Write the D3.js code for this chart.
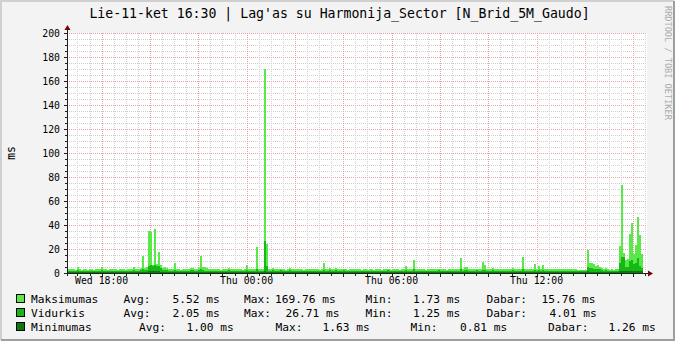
<!DOCTYPE html>
<html>
<head>
<meta charset="utf-8">
<script src="https://cdn.jsdelivr.net/npm/d3@7"></script>
<style>
  body { margin: 0; background: #f3f3f3; }
  svg text { font-family: "DejaVu Sans Mono", monospace; fill: #000; white-space: pre; }
</style>
</head>
<body>
<div id="chart"></div>
<script>
// series values, one per 5 minutes, starting Wed 16:34
var maksimumas = [].concat(
  [3.2,3.0,3.6,3.1,2.9,4.6,3.3,2.8,3.0,3.4,2.7,3.1,3.5,2.9,3.2,3.0,3.3,5.0,3.6,3.1,2.8,3.2,3.4,3.0],
  [3.1,2.9,3.3,3.0,3.4,2.8,3.2,3.5,3.0,4.6,3.2,3.3,3.8,14.4,4.2,5.0,35.0,34.5,7.0,36.7,7.5,17.5,6.5,4.2],
  [5.0,3.8,3.3,3.0,3.4,8.3,3.5,3.1,2.9,3.3,3.6,3.0,3.2,4.4,4.0,3.1,3.3,3.8,14.2,5.2,4.6,4.4,3.0,3.4],
  [3.3,3.0,3.4,3.1,2.9,3.6,3.2,3.0,4.0,3.3,3.5,3.1,3.0,3.4,3.2,2.9,3.3,6.7,3.1,3.0,3.4,3.2,21.7,3.6],
  [3.2,3.0,169.76,24.4,3.3,3.1,4.5,3.2,3.0,3.4,3.6,3.1,2.9,3.3,4.2,3.0,3.2,3.5,3.1,3.0,3.3,2.9,3.4,3.2],
  [3.1,3.3,3.0,3.4,3.2,2.9,3.5,8.6,3.3,3.0,4.2,3.1,3.4,4.0,3.2,3.0,3.3,3.6,3.1,2.9,3.2,3.4,3.0,3.3],
  [3.0,3.2,2.8,3.1,3.4,2.9,3.0,3.3,2.7,3.1,3.5,3.0,2.8,3.2,3.0,3.6,3.1,2.9,3.3,3.0,3.2,2.8,3.1,3.4],
  [6.0,3.2,3.0,3.3,11.2,3.4,3.1,3.0,3.5,3.2,2.9,3.3,3.1,3.4,3.0,3.2,3.6,3.1,3.0,3.3,2.9,3.2,3.4,3.1],
  [3.2,3.0,3.4,12.8,3.3,4.7,5.3,3.1,3.0,3.4,3.2,3.5,3.1,3.0,9.4,6.5,3.3,3.1,3.4,4.2,3.0,3.2,3.5,3.1],
  [3.1,3.3,3.0,3.4,3.2,4.0,3.1,3.0,3.3,3.5,13.0,3.2,3.0,3.4,3.1,3.3,7.2,3.2,6.0,3.4,6.5,3.1,3.3,3.0],
  [3.2,3.0,3.4,3.1,3.3,3.0,3.5,3.2,3.1,3.4,3.0,3.2,3.3,2.9,2.5,2.3,2.4,2.5,19.5,8.0,8.2,7.8,6.0,6.7],
  [5.0,4.5,3.2,3.8,3.0,2.8,3.1,2.9,3.0,3.3,22.5,73.3,16.4,10.8,11.7,32.5,41.4,15.8,23.0,46.7,31.7,15.76]
);
var vidurkis = [].concat(
  [1.9,1.8,2.0,1.8,1.7,2.2,1.9,1.7,1.8,2.0,1.7,1.8,2.0,1.7,1.9,1.8,1.9,2.4,2.0,1.8,1.7,1.9,2.0,1.8],
  [1.8,1.7,1.9,1.8,2.0,1.7,1.9,2.0,1.8,2.3,1.9,1.9,2.1,3.2,2.2,2.6,6.2,6.5,6.0,6.3,5.5,6.0,4.0,2.4],
  [2.5,2.1,1.9,1.8,2.0,2.8,2.0,1.8,1.7,1.9,2.0,1.8,1.9,2.3,2.1,1.8,1.9,2.1,3.0,2.4,2.0,1.9,1.8,2.0],
  [1.9,1.8,2.0,1.8,1.7,2.0,1.9,1.8,2.2,1.9,2.0,1.8,1.8,2.0,1.9,1.7,1.9,2.6,1.8,1.8,2.0,1.9,3.6,2.0],
  [1.9,1.8,26.71,5.8,1.9,1.8,2.3,1.9,1.8,2.0,2.1,1.8,1.7,1.9,2.2,1.8,1.9,2.0,1.8,1.8,1.9,1.7,2.0,1.9],
  [1.8,1.9,1.8,2.0,1.9,1.7,2.0,2.9,1.9,1.8,2.2,1.8,2.0,2.1,1.9,1.8,1.9,2.1,1.8,1.7,1.9,2.0,1.8,1.9],
  [1.8,1.9,1.7,1.8,2.0,1.7,1.8,1.9,1.6,1.8,2.0,1.8,1.7,1.9,1.8,2.1,1.8,1.7,1.9,1.8,1.9,1.7,1.8,2.0],
  [2.6,1.9,1.8,1.9,3.1,2.0,1.8,1.8,2.0,1.9,1.7,1.9,1.8,2.0,1.8,1.9,2.1,1.8,1.8,1.9,1.7,1.9,2.0,1.8],
  [1.9,1.8,2.0,3.3,1.9,2.2,2.4,1.8,1.8,2.0,1.9,2.1,1.8,1.8,2.9,2.4,1.9,1.8,2.0,2.2,1.8,1.9,2.0,1.8],
  [1.8,1.9,1.8,2.0,1.9,2.2,1.8,1.8,1.9,2.0,3.4,1.9,1.8,2.0,1.8,1.9,2.6,1.9,2.4,2.0,2.5,1.8,1.9,1.8],
  [1.9,1.8,2.0,1.8,1.9,1.8,2.0,1.9,1.8,2.0,1.8,1.9,1.9,1.7,1.6,1.5,1.6,1.6,5.2,3.8,4.0,3.6,3.2,3.4],
  [3.0,2.6,1.9,2.1,1.8,1.7,1.8,1.7,1.8,1.9,8.0,13.3,13.0,5.0,5.2,10.0,10.8,7.5,8.0,12.5,5.8,4.01]
);
var minimumas = [].concat(
  [1.0,0.9,1.1,1.0,0.9,1.1,1.0,0.9,1.0,1.1,0.9,1.0,1.1,0.9,1.0,1.0,1.0,1.2,1.0,0.9,0.9,1.0,1.1,1.0],
  [1.0,0.9,1.0,1.0,1.1,0.9,1.0,1.1,1.0,1.1,1.0,1.0,1.0,1.2,1.0,1.1,1.4,1.5,1.3,1.6,1.3,1.4,1.2,1.1],
  [1.1,1.0,1.0,0.9,1.0,1.2,1.0,0.9,0.9,1.0,1.0,0.9,1.0,1.1,1.0,0.9,1.0,1.0,1.2,1.1,1.0,1.0,0.9,1.0],
  [1.0,0.9,1.0,1.0,0.9,1.0,1.0,0.9,1.1,1.0,1.0,0.9,0.9,1.0,1.0,0.9,1.0,1.1,0.9,0.9,1.0,1.0,1.2,1.0],
  [1.0,0.9,1.63,1.2,1.0,0.9,1.1,1.0,0.9,1.0,1.0,0.9,0.9,1.0,1.1,0.9,1.0,1.0,0.9,0.9,1.0,0.81,1.0,1.0],
  [0.9,1.0,0.9,1.0,1.0,0.9,1.0,1.2,1.0,0.9,1.1,0.9,1.0,1.0,1.0,0.9,1.0,1.1,0.9,0.9,1.0,1.0,0.9,1.0],
  [0.9,1.0,0.9,0.9,1.0,0.9,0.9,1.0,0.9,0.9,1.0,0.9,0.9,1.0,0.9,1.0,0.9,0.9,1.0,0.9,1.0,0.9,0.9,1.0],
  [1.1,1.0,0.9,1.0,1.2,1.0,0.9,0.9,1.0,1.0,0.9,1.0,0.9,1.0,0.9,1.0,1.0,0.9,0.9,1.0,0.9,1.0,1.0,0.9],
  [1.0,0.9,1.0,1.2,1.0,1.0,1.1,0.9,0.9,1.0,1.0,1.0,0.9,0.9,1.1,1.1,1.0,0.9,1.0,1.0,0.9,1.0,1.0,0.9],
  [0.9,1.0,0.9,1.0,1.0,1.0,0.9,0.9,1.0,1.0,1.2,1.0,0.9,1.0,0.9,1.0,1.1,1.0,1.0,1.0,1.1,0.9,1.0,0.9],
  [1.0,0.9,1.0,0.9,1.0,0.9,1.0,1.0,0.9,1.0,0.9,1.0,1.0,0.9,0.9,0.85,0.9,0.9,1.3,1.2,1.2,1.1,1.1,1.1],
  [1.1,1.0,1.0,1.0,0.9,0.9,1.0,0.9,1.0,1.0,1.4,1.6,1.5,1.3,1.3,1.5,1.6,1.4,1.4,1.6,1.4,1.26]
);

// legend rows: name, then Avg / Max / Min / Dabar texts
var legendNames = ["Maksimumas", "Vidurkis", "Minimumas"];
var legendAvg = ["5.52 ms", "2.05 ms", "1.00 ms"];
var legendMax = ["169.76 ms", "26.71 ms", "1.63 ms"];
var legendMin = ["1.73 ms", "1.25 ms", "0.81 ms"];
var legendNow = ["15.76 ms", "4.01 ms", "1.26 ms"];

var title = "Lie-11-ket 16:30 | Lag'as su Harmonija_Sector [N_Brid_5M_Gaudo]";
var colors = ["#58e848", "#16b816", "#0b790b"];

var width = 675, height = 341;
var plotLeft = 67, plotRight = 647, plotTop = 33, plotBottom = 273;

var start = new Date(2013, 6, 10, 16, 34);
var end = new Date(2013, 6, 11, 16, 34);
var step = 5 * 60 * 1000;

var x = d3.scaleTime().domain([start, end]).range([plotLeft, plotRight]);
var y = d3.scaleLinear().domain([0, 200]).range([plotBottom, plotTop]);

var svg = d3.select("#chart").append("svg")
  .attr("width", width)
  .attr("height", height);

// background and 3d frame
svg.append("rect").attr("width", width).attr("height", height).attr("fill", "#f3f3f3");
svg.append("path").attr("d", "M1,340V1H674").attr("fill", "none").attr("stroke", "#d0d0d0").attr("stroke-width", 2);
svg.append("path").attr("d", "M1,340H674V1").attr("fill", "none").attr("stroke", "#9e9e9e").attr("stroke-width", 2);

svg.append("rect")
  .attr("x", plotLeft).attr("y", plotTop)
  .attr("width", plotRight - plotLeft).attr("height", plotBottom - plotTop)
  .attr("fill", "#fff");

// grid
var grid = svg.append("g").attr("shape-rendering", "crispEdges");
var minorX = d3.timeMinute.every(30).range(start, end);
var majorX = d3.timeHour.every(2).range(start, end);
var minorY = d3.range(5, 201, 5);
var majorY = d3.range(20, 201, 20);

grid.selectAll(".vx").data(minorX).enter().append("line")
  .attr("x1", d => Math.round(x(d)) + 0.5).attr("x2", d => Math.round(x(d)) + 0.5)
  .attr("y1", plotTop).attr("y2", plotBottom)
  .attr("stroke", "#cfcfcf").attr("stroke-dasharray", "1,1");
grid.selectAll(".hy").data(minorY).enter().append("line")
  .attr("x1", plotLeft).attr("x2", plotRight)
  .attr("y1", d => Math.round(y(d)) + 0.5).attr("y2", d => Math.round(y(d)) + 0.5)
  .attr("stroke", "#cfcfcf").attr("stroke-dasharray", "1,1");
grid.selectAll(".mx").data(majorX).enter().append("line")
  .attr("x1", d => Math.round(x(d)) + 0.5).attr("x2", d => Math.round(x(d)) + 0.5)
  .attr("y1", plotTop).attr("y2", plotBottom)
  .attr("stroke", "#e4a4a4").attr("stroke-dasharray", "1,1");
grid.selectAll(".my").data(majorY).enter().append("line")
  .attr("x1", plotLeft).attr("x2", plotRight)
  .attr("y1", d => Math.round(y(d)) + 0.5).attr("y2", d => Math.round(y(d)) + 0.5)
  .attr("stroke", "#e4a4a4").attr("stroke-dasharray", "1,1");

// areas, step style like rrdtool
function points(values) {
  var p = values.map((v, i) => ({ t: new Date(start.getTime() + i * step), v: v }));
  p.push({ t: new Date(start.getTime() + values.length * step), v: values[values.length - 1] });
  return p;
}
var area = d3.area()
  .curve(d3.curveStepAfter)
  .x(d => x(d.t))
  .y0(y(0))
  .y1(d => y(d.v));

[maksimumas, vidurkis, minimumas].forEach(function (s, i) {
  svg.append("path")
    .attr("d", area(points(s)))
    .attr("fill", colors[i])
    .attr("shape-rendering", "crispEdges");
});

// axes
var axis = svg.append("g").attr("shape-rendering", "crispEdges");
axis.append("line").attr("x1", plotLeft + 0.5).attr("x2", plotLeft + 0.5).attr("y1", plotBottom + 3).attr("y2", plotTop - 4)
  .attr("stroke", "#202020");
axis.append("line").attr("x1", plotLeft - 3).attr("x2", plotRight + 3).attr("y1", plotBottom + 0.5).attr("y2", plotBottom + 0.5)
  .attr("stroke", "#202020");
svg.append("path").attr("d", `M${plotLeft - 2.5},${plotTop - 3}L${plotLeft + 3.5},${plotTop - 3}L${plotLeft + 0.5},${plotTop - 8}Z`).attr("fill", "#7f0000");
svg.append("path").attr("d", `M${plotRight + 1},${plotBottom - 2.5}L${plotRight + 1},${plotBottom + 3.5}L${plotRight + 6},${plotBottom + 0.5}Z`).attr("fill", "#7f0000");

axis.selectAll(".tx").data(minorX).enter().append("line")
  .attr("x1", d => Math.round(x(d)) + 0.5).attr("x2", d => Math.round(x(d)) + 0.5)
  .attr("y1", plotBottom + 1).attr("y2", d => plotBottom + (d.getMinutes() === 0 && d.getHours() % 2 === 0 ? 4 : 3))
  .attr("stroke", "#202020");
axis.selectAll(".ty").data(minorY).enter().append("line")
  .attr("x1", d => plotLeft - (d % 20 === 0 ? 3 : 2)).attr("x2", plotLeft)
  .attr("y1", d => Math.round(y(d)) + 0.5).attr("y2", d => Math.round(y(d)) + 0.5)
  .attr("stroke", "#202020");

var fmt = d3.timeFormat("%a %H:%M");
svg.selectAll(".xl").data(d3.timeHour.every(6).range(start, end)).enter().append("text")
  .attr("x", d => x(d)).attr("y", 284)
  .attr("text-anchor", "middle")
  .style("font-size", "9.8px")
  .text(d => fmt(d));
svg.selectAll(".yl").data([0].concat(majorY)).enter().append("text")
  .attr("x", 60).attr("y", d => y(d) + 3.6)
  .attr("text-anchor", "end")
  .style("font-size", "9.8px")
  .text(d => d);

svg.append("text")
  .attr("transform", "translate(15,153) rotate(-90)")
  .attr("text-anchor", "middle")
  .style("font-size", "11.4px")
  .text("ms");

svg.append("text")
  .attr("x", width / 2 + 2).attr("y", 18)
  .attr("text-anchor", "middle")
  .style("font-size", "13.2px")
  .text(title);

svg.append("text")
  .attr("transform", "translate(665,6) rotate(90)")
  .style("font-size", "8.6px")
  .style("fill", "#acacac")
  .text("RRDTOOL / TOBI OETIKER");

// legend, each piece placed where rrdtool put it
var legendCols = [
  [123.5, 172.5, 244, 275, 365.5, 413, 486.5, 541.5],
  [123.5, 172.5, 244, 285.5, 365.5, 413, 486.5, 549.5],
  [139, 186.5, 275.5, 322.5, 410.5, 460, 548, 608.5]
];
var leg = svg.append("g").style("font-size", "11.2px");
legendNames.forEach(function (name, i) {
  var ly = 303 + i * 14;
  leg.append("rect")
    .attr("x", 16.5).attr("y", ly - 8.5)
    .attr("width", 8).attr("height", 8)
    .attr("fill", colors[i]).attr("stroke", "#000");
  var parts = [name, "Avg:", legendAvg[i], "Max:", legendMax[i], "Min:", legendMin[i], "Dabar:", legendNow[i]];
  var xs = [31].concat(legendCols[i]);
  parts.forEach(function (p, j) {
    leg.append("text").attr("x", xs[j]).attr("y", ly).text(p);
  });
});
</script>
</body>
</html>
